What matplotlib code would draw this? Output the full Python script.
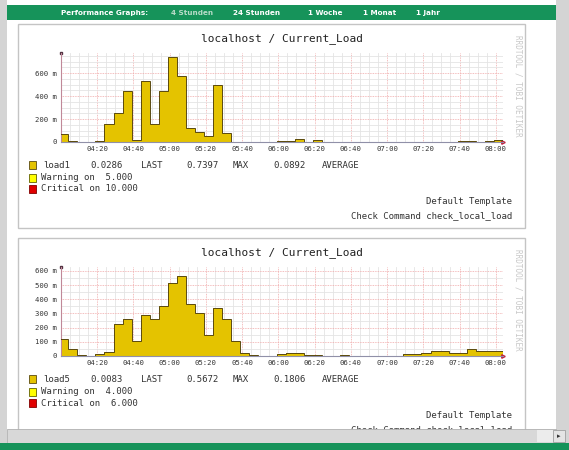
import matplotlib
matplotlib.use("Agg")
import matplotlib.pyplot as plt
from matplotlib.patches import Rectangle
import numpy as np

W, H = 569, 450

# time axis in minutes after 04:00, one value per 5 min step (first step starts 03:59)
bin_start = -1
bin_step = 5
tick_minutes = [20, 40, 60, 80, 100, 120, 140, 160, 180, 200, 220, 240]
tick_labels = ["04:20", "04:40", "05:00", "05:20", "05:40", "06:00",
               "06:20", "06:40", "07:00", "07:20", "07:40", "08:00"]

load1 = [0.066, 0.006, 0.000, 0.002, 0.006, 0.161, 0.250, 0.440, 0.021, 0.528,
         0.161, 0.440, 0.740, 0.573, 0.120, 0.090, 0.048, 0.498, 0.080, 0.002,
         0.001, 0.001, 0.001, 0.004, 0.010, 0.012, 0.022, 0.003, 0.014, 0.002,
         0.001, 0.001, 0.001, 0.002, 0.001, 0.001, 0.001, 0.001, 0.001, 0.002,
         0.001, 0.002, 0.004, 0.004, 0.010, 0.010, 0.003, 0.013, 0.015]

load5 = [0.118, 0.047, 0.005, 0.000, 0.016, 0.028, 0.228, 0.264, 0.104, 0.292,
         0.259, 0.353, 0.511, 0.567, 0.369, 0.306, 0.146, 0.339, 0.259, 0.104,
         0.024, 0.005, 0.001, 0.003, 0.016, 0.024, 0.024, 0.005, 0.005, 0.002,
         0.002, 0.009, 0.002, 0.001, 0.001, 0.001, 0.001, 0.001, 0.012, 0.012,
         0.021, 0.033, 0.033, 0.024, 0.024, 0.047, 0.033, 0.033, 0.033]

load1_ticks = [0, 0.2, 0.4, 0.6]
load5_ticks = [0, 0.1, 0.2, 0.3, 0.4, 0.5, 0.6]

graphs = [
    {"values": load1, "ymax": 0.775, "yticks": load1_ticks, "top": 24,
     "stats": ["load1", "0.0286", "LAST", "0.7397", "MAX", "0.0892", "AVERAGE"],
     "warn": "Warning on  5.000", "crit": "Critical on 10.000"},
    {"values": load5, "ymax": 0.627, "yticks": load5_ticks, "top": 238,
     "stats": ["load5", "0.0083", "LAST", "0.5672", "MAX", "0.1806", "AVERAGE"],
     "warn": "Warning on  4.000", "crit": "Critical on  6.000"},
]
stat_x = [43, 90, 141, 186, 233, 273, 322]

nav = [("Performance Graphs:", 105, "white"), ("4 Stunden", 192, "#b8dcc8"),
       ("24 Stunden", 257, "white"), ("1 Woche", 325, "white"),
       ("1 Monat", 380, "white"), ("1 Jahr", 428, "white")]

mono = "DejaVu Sans Mono"
fill_col = "#e4c300"
line_col = "#5a4a10"
green = "#16935a"
txt_col = "#333333"

fig = plt.figure(figsize=(W / 100, H / 100), dpi=100)
fig.patch.set_facecolor("#d4d4d4")


def rect(x, y, w, h, z=-5, **kw):
    fig.patches.append(Rectangle((x / W, 1 - (y + h) / H), w / W, h / H,
                                 transform=fig.transFigure, zorder=z, **kw))


def text(x, y, s, **kw):
    fig.text(x / W, 1 - y / H, s, **kw)


# page
rect(7, 0, 549, 450, facecolor="white", edgecolor="none", z=-10)
rect(7, 5, 549, 15, facecolor=green, edgecolor="none")
for label, xc, col in nav:
    text(xc, 13, label, ha="center", va="center", fontsize=5.2, color=col,
         fontweight="bold")

for g in graphs:
    top = g["top"]
    rect(18, top, 507, 204, facecolor="white", edgecolor="#c4c4c4", lw=1.0, z=-8)

    ax_top = top + 29
    ax_bot = top + 118
    ax = fig.add_axes([61 / W, 1 - ax_bot / H, (503 - 61) / W, (ax_bot - ax_top) / H])
    ax.set_facecolor("white")
    vals = np.array(g["values"])
    edges = bin_start + bin_step * np.arange(len(vals) + 1)

    ax.set_xlim(0, 244)
    ax.set_ylim(0, g["ymax"])
    # grid
    for m in range(5, 245, 5):
        major = m in tick_minutes
        ax.axvline(m, color="#f0a8a8" if major else "#e4e4e4",
                   lw=0.6, ls=(0, (1, 1)) if major else "-", zorder=0)
    for v in np.arange(0.05, g["ymax"], 0.05):
        major = any(abs(v - t) < 1e-6 for t in g["yticks"])
        ax.axhline(v, color="#f0a8a8" if major else "#e4e4e4",
                   lw=0.6, ls=(0, (1, 1)) if major else "-", zorder=0)

    ax.stairs(vals, edges, fill=True, color=fill_col, baseline=0, zorder=2)
    ax.stairs(vals, edges, color=line_col, lw=0.7, baseline=None, zorder=3)

    ax.set_xticks(tick_minutes)
    ax.set_xticklabels(tick_labels)
    ax.set_yticks(g["yticks"])
    ax.set_yticklabels(["0"] + [f"{int(round(t * 1000))} m" for t in g["yticks"][1:]])
    ax.tick_params(length=0, labelsize=5.2, colors=txt_col, pad=3)
    for lab in ax.get_xticklabels() + ax.get_yticklabels():
        lab.set_family(mono)
    for s in ["top", "right"]:
        ax.spines[s].set_visible(False)
    ax.spines["left"].set_color("#c08898")
    ax.spines["bottom"].set_color("#9090a8")
    ax.spines["left"].set_linewidth(0.8)
    ax.spines["bottom"].set_linewidth(0.8)
    ax.plot([0], [1.0], marker="s", ms=2, color="#503040", transform=ax.transAxes,
            clip_on=False)
    ax.plot([1.0], [0], marker=">", ms=2.5, color="#c02040", transform=ax.transAxes,
            clip_on=False)

    text(282, top + 15, "localhost / Current_Load", ha="center", va="center",
         fontsize=8, family=mono, color="#222222")
    text(518, top + 62, "RRDTOOL / TOBI OETIKER", ha="center", va="center",
         rotation=270, fontsize=5.5, family=mono, color="#c8c8c8")

    # legend
    ly = top + 141
    rect(29, ly - 4, 7, 8, facecolor=fill_col, edgecolor=line_col, lw=0.6, z=1)
    rect(29, ly + 9, 7, 8, facecolor="#ffff00", edgecolor="#606000", lw=0.6, z=1)
    rect(29, ly + 20, 7, 8, facecolor="#e00000", edgecolor="#800000", lw=0.6, z=1)
    for sx, part in zip(stat_x, g["stats"]):
        text(sx, ly, part, va="center", fontsize=6.5, family=mono, color=txt_col)
    text(41, ly + 13, g["warn"], va="center", fontsize=6.5, family=mono, color=txt_col)
    text(41, ly + 24, g["crit"], va="center", fontsize=6.5, family=mono, color=txt_col)
    text(512, top + 177, "Default Template", ha="right", va="center",
         fontsize=6.5, family=mono, color=txt_col)
    text(512, top + 192, "Check Command check_local_load", ha="right", va="center",
         fontsize=6.5, family=mono, color=txt_col)

# scrollbar and bottom bar
rect(7, 429, 549, 14, facecolor="#d8d8d8", edgecolor="#b0b0b0", lw=0.6, z=10)
rect(537, 430, 16, 12, facecolor="#ececec", edgecolor="none", z=11)
rect(553, 430, 12, 12, facecolor="#e4e4e4", edgecolor="#a0a0a0", lw=0.6, z=11)
text(559, 436, "▸", ha="center", va="center", fontsize=5, color="#333333", zorder=12)
rect(0, 443, 569, 7, facecolor=green, edgecolor="none", z=10)

fig.savefig("out.png", dpi=100, facecolor=fig.get_facecolor())
